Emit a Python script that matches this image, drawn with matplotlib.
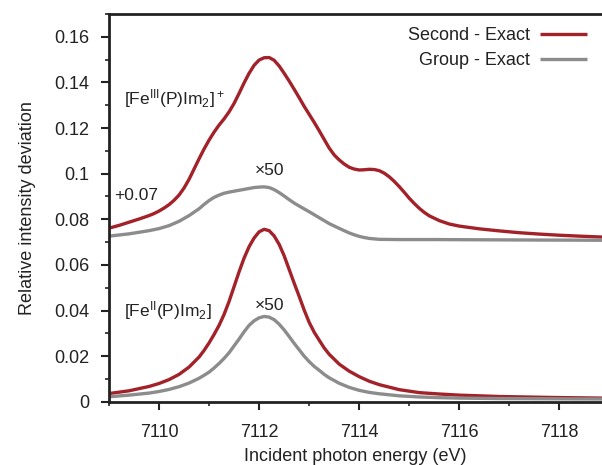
import matplotlib.pyplot as plt
import numpy as np
from matplotlib.ticker import MultipleLocator

plt.rcParams['font.family'] = ['Liberation Sans', 'DejaVu Sans']
plt.rcParams['mathtext.default'] = 'regular'

# [Fe(III)(P)Im2]+ , offset +0.07 already included
e_fe3_red = [7109.0, 7109.2, 7109.4, 7109.6, 7109.8, 7109.9, 7110.0, 7110.1, 7110.2,
             7110.3, 7110.4, 7110.5, 7110.6, 7110.7, 7110.8, 7110.9, 7111.0, 7111.1,
             7111.2, 7111.3, 7111.4, 7111.5, 7111.6, 7111.7, 7111.8, 7111.9, 7112.0,
             7112.1, 7112.2, 7112.3, 7112.4, 7112.5, 7112.6, 7112.7, 7112.8, 7112.9,
             7113.0, 7113.1, 7113.2, 7113.3, 7113.4, 7113.5, 7113.6, 7113.7, 7113.8,
             7113.9, 7114.0, 7114.1, 7114.2, 7114.3, 7114.4, 7114.5, 7114.6, 7114.7,
             7114.8, 7114.9, 7115.0, 7115.1, 7115.2, 7115.3, 7115.4, 7115.6, 7115.8,
             7116.0, 7116.4, 7116.8, 7117.2, 7117.6, 7118.0, 7118.4, 7118.85]
fe3_second = [0.0761, 0.0773, 0.0787, 0.0801, 0.0816, 0.0825, 0.0836, 0.0849, 0.0864,
              0.0883, 0.0906, 0.0937, 0.0975, 0.1020, 0.1065, 0.1108, 0.1147, 0.1182,
              0.1213, 0.1240, 0.1271, 0.1308, 0.1352, 0.1398, 0.1440, 0.1475, 0.1498,
              0.1508, 0.1509, 0.1497, 0.1472, 0.1440, 0.1406, 0.1370, 0.1333, 0.1295,
              0.1260, 0.1225, 0.1188, 0.1150, 0.1112, 0.1082, 0.1060, 0.1042, 0.1028,
              0.1020, 0.1016, 0.1017, 0.1019, 0.1018, 0.1013, 0.1002, 0.0986, 0.0966,
              0.0943, 0.0918, 0.0892, 0.0869, 0.0848, 0.0830, 0.0815, 0.0794, 0.0779,
              0.0770, 0.0758, 0.0749, 0.0741, 0.0735, 0.0730, 0.0726, 0.0722]

e_fe3_gray = [7109.0, 7109.4, 7109.8, 7110.0, 7110.2, 7110.4, 7110.6, 7110.8, 7110.9,
              7111.0, 7111.1, 7111.2, 7111.3, 7111.4, 7111.6, 7111.8, 7111.9, 7112.0,
              7112.1, 7112.2, 7112.3, 7112.4, 7112.5, 7112.6, 7112.7, 7112.8, 7113.0,
              7113.2, 7113.4, 7113.6, 7113.8, 7113.9, 7114.0, 7114.1, 7114.2, 7114.4,
              7114.8, 7115.5, 7116.5, 7117.5, 7118.85]
fe3_group = [0.0726, 0.0736, 0.0750, 0.0759, 0.0772, 0.0791, 0.0816, 0.0846, 0.0865,
             0.0882, 0.0896, 0.0906, 0.0914, 0.0919, 0.0927, 0.0935, 0.0939, 0.0941,
             0.0942, 0.0939, 0.0930, 0.0917, 0.0902, 0.0886, 0.0871, 0.0858, 0.0833,
             0.0807, 0.0781, 0.0760, 0.0740, 0.0732, 0.0725, 0.0720, 0.0716, 0.0712,
             0.0711, 0.0711, 0.0710, 0.0709, 0.0708]

# [Fe(II)(P)Im2]
e_fe2 = [7109.0, 7109.4, 7109.8, 7110.0, 7110.2, 7110.4, 7110.6,
         7110.8, 7110.9, 7111.0, 7111.1, 7111.2, 7111.3, 7111.4, 7111.5, 7111.6,
         7111.7, 7111.8, 7111.9, 7112.0, 7112.1, 7112.2, 7112.3, 7112.4, 7112.5,
         7112.6, 7112.7, 7112.8, 7112.9, 7113.0, 7113.1, 7113.2, 7113.3, 7113.4,
         7113.6, 7113.8, 7114.0, 7114.2, 7114.4, 7114.8, 7115.2, 7115.6, 7116.0,
         7116.8, 7117.8, 7118.85]
fe2_second = [0.0036, 0.0048, 0.0067, 0.0080, 0.0097, 0.0120, 0.0152,
              0.0196, 0.0225, 0.0258, 0.0295, 0.0335, 0.0383, 0.0440, 0.0505, 0.0570,
              0.0630, 0.0680, 0.0718, 0.0745, 0.0756, 0.0750, 0.0727, 0.0690, 0.0640,
              0.0580, 0.0520, 0.0462, 0.0402, 0.0348, 0.0305, 0.0270, 0.0236, 0.0208,
              0.0165, 0.0134, 0.0110, 0.0090, 0.0075, 0.0053, 0.0040, 0.0034, 0.0029,
              0.0023, 0.0019, 0.0016]
fe2_group = [0.0022, 0.0029, 0.0038, 0.0045, 0.0054, 0.0066, 0.0082,
             0.0103, 0.0116, 0.0130, 0.0148, 0.0168, 0.0190, 0.0215, 0.0245, 0.0275,
             0.0307, 0.0335, 0.0355, 0.0368, 0.0374, 0.0371, 0.0360, 0.0340, 0.0315,
             0.0286, 0.0256, 0.0228, 0.0200, 0.0176, 0.0155, 0.0138, 0.0120, 0.0105,
             0.0081, 0.0063, 0.0050, 0.0041, 0.0035, 0.0026, 0.0021, 0.0018, 0.0016,
             0.0014, 0.0013, 0.0012]

red = '#a3222a'
gray = '#8c8c8c'
ink = '#222222'

fig = plt.figure(figsize=(6.02, 4.65), dpi=100)
ax = fig.add_axes([0.181, 0.136, 0.819, 0.834])

style = dict(lw=2.4, solid_joinstyle='round', solid_capstyle='butt')
ax.plot(e_fe3_red, fe3_second, color=red, label='Second - Exact', **style)
ax.plot(e_fe3_gray, fe3_group, color=gray, label='Group - Exact', **style)
ax.plot(e_fe2, fe2_second, color=red, **style)
ax.plot(e_fe2, fe2_group, color=gray, **style)

ax.set_xlim(7109, 7118.85)
ax.set_ylim(0, 0.17)
ax.xaxis.set_minor_locator(MultipleLocator(1))
ax.yaxis.set_minor_locator(MultipleLocator(0.01))
ax.set_yticks([0, 0.02, 0.04, 0.06, 0.08, 0.1, 0.12, 0.14, 0.16])
ax.set_yticklabels(['0', '0.02', '0.04', '0.06', '0.08', '0.1', '0.12', '0.14', '0.16'])
ax.set_xticks([7110, 7112, 7114, 7116, 7118])
ax.set_xticklabels(['7110', '7112', '7114', '7116', '7118'])

ax.tick_params(which='major', direction='out', length=6, width=1.5, labelsize=13, color=ink, labelcolor=ink)
ax.tick_params(axis='y', which='major', pad=8)
ax.tick_params(axis='x', which='major', pad=10)
ax.tick_params(which='minor', direction='out', length=3, width=1.2, color=ink)
for s in ['left', 'bottom', 'top']:
    ax.spines[s].set_linewidth(2)
    ax.spines[s].set_color(ink)
ax.spines['right'].set_visible(False)

ax.set_xlabel('Incident photon energy (eV)', fontsize=13, color=ink, labelpad=5)
ax.set_ylabel('Relative intensity deviation', fontsize=13, color=ink, labelpad=13)

ax.text(7109.3, 0.133, r'[Fe$^{III}$(P)Im$_2$]$^+$', fontsize=12.5, va='center', color=ink)
ax.text(7109.1, 0.0905, '+0.07', fontsize=12.5, va='center', color=ink)
ax.text(7112.2, 0.1015, '×50', fontsize=12.5, va='center', ha='center', color=ink)
ax.text(7109.3, 0.040, r'[Fe$^{II}$(P)Im$_2$]', fontsize=12.5, va='center', color=ink)
ax.text(7112.2, 0.0424, '×50', fontsize=12.5, va='center', ha='center', color=ink)

leg = ax.legend(loc='upper right', frameon=False, markerfirst=False, fontsize=13,
                handlelength=2.6, handletextpad=0.6, borderaxespad=0.0, labelspacing=0.45,
                bbox_to_anchor=(0.985, 0.985))
for t in leg.get_texts():
    t.set_color(ink)

fig.savefig('out.png', dpi=100)
